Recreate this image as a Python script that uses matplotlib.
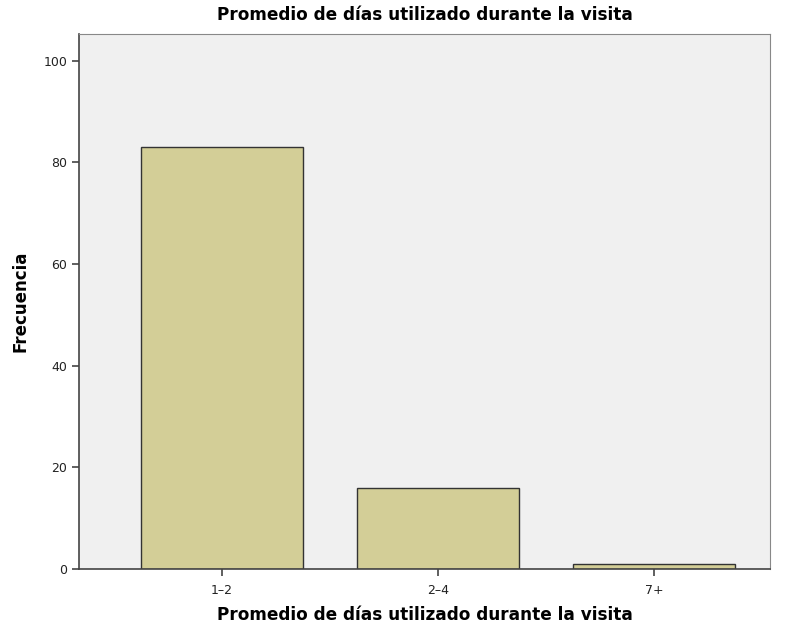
import matplotlib
matplotlib.use("Agg")
import matplotlib.pyplot as plt

categories = ["1-2", "2-4", "7+"]
frequencies = [83, 16, 1]
y_ticks = [0, 20, 40, 60, 80, 100]

title = "Promedio de días utilizado durante la visita"

fig = plt.figure(figsize=(7.86, 6.28), dpi=100)
ax = fig.add_axes([0.1005, 0.094, 0.8791, 0.852])
ax.set_facecolor("#f0f0f0")

positions = list(range(len(categories)))
ax.bar(positions, frequencies, width=0.75, color="#d3ce97",
       edgecolor="#333333", linewidth=1.0, zorder=2)

ax.set_xlim(-0.662, 2.537)
ax.set_ylim(0, 105.3)
ax.set_xticks(positions)
ax.set_xticklabels([c.replace("-", "\u2013") for c in categories])
ax.set_yticks(y_ticks)

for side in ["left", "bottom"]:
    ax.spines[side].set_color("#444444")
    ax.spines[side].set_linewidth(1.2)
for side in ["top", "right"]:
    ax.spines[side].set_color("#888888")
    ax.spines[side].set_linewidth(0.8)

ax.tick_params(axis="both", direction="out", length=5, width=1.2,
               color="#444444", labelsize=9, labelcolor="#222222")
ax.tick_params(axis="x", pad=6)

ax.set_title(title, fontsize=12.2, fontweight="bold", pad=10)
ax.set_xlabel(title, fontsize=12.2, fontweight="bold", labelpad=6)
ax.set_ylabel("Frecuencia", fontsize=12, fontweight="bold", labelpad=10)

fig.savefig("out.png", dpi=100)
